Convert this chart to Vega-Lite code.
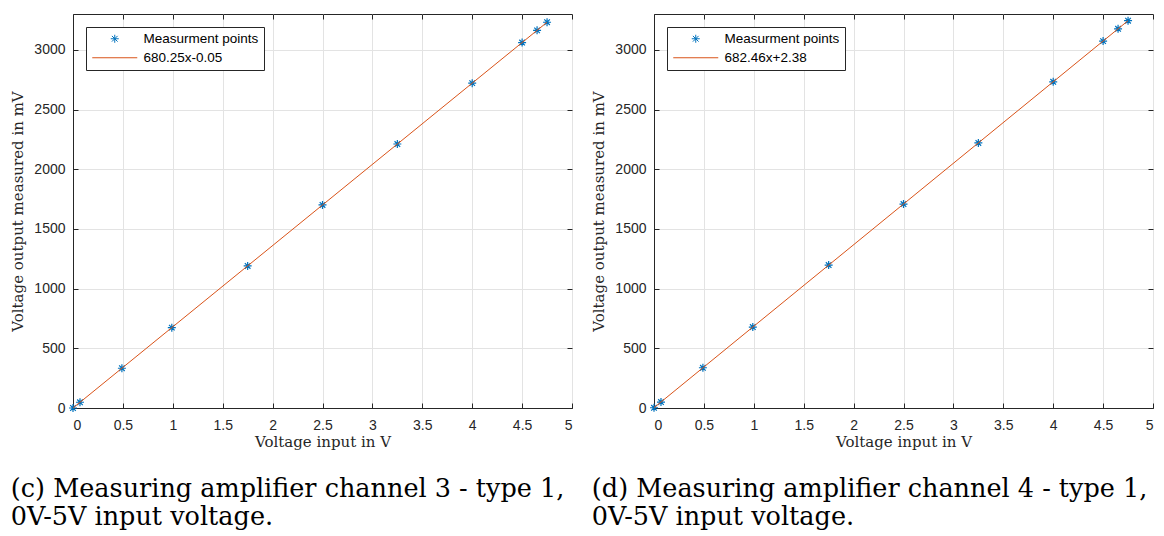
{
  "$schema": "https://vega.github.io/schema/vega-lite/v6.json",
  "padding": {"left": 10, "top": 13, "right": 3, "bottom": 0},
  "background": "white",
  "datasets": {
    "ch3": [
      {"x": 0, "y": 0, "series": "Measurment points"},
      {"x": 0.07, "y": 48, "series": "Measurment points"},
      {"x": 0.49, "y": 333, "series": "Measurment points"},
      {"x": 0.99, "y": 673, "series": "Measurment points"},
      {"x": 1.75, "y": 1190, "series": "Measurment points"},
      {"x": 2.5, "y": 1701, "series": "Measurment points"},
      {"x": 3.25, "y": 2211, "series": "Measurment points"},
      {"x": 4.0, "y": 2721, "series": "Measurment points"},
      {"x": 4.5, "y": 3061, "series": "Measurment points"},
      {"x": 4.65, "y": 3163, "series": "Measurment points"},
      {"x": 4.75, "y": 3231, "series": "Measurment points"},
      {"x": 0, "y": -0.05, "series": "680.25x-0.05"},
      {"x": 4.75, "y": 3231, "series": "680.25x-0.05"}
    ],
    "ch4": [
      {"x": 0, "y": 2, "series": "Measurment points"},
      {"x": 0.07, "y": 50, "series": "Measurment points"},
      {"x": 0.49, "y": 337, "series": "Measurment points"},
      {"x": 0.99, "y": 678, "series": "Measurment points"},
      {"x": 1.75, "y": 1197, "series": "Measurment points"},
      {"x": 2.5, "y": 1708, "series": "Measurment points"},
      {"x": 3.25, "y": 2220, "series": "Measurment points"},
      {"x": 4.0, "y": 2732, "series": "Measurment points"},
      {"x": 4.5, "y": 3073, "series": "Measurment points"},
      {"x": 4.65, "y": 3176, "series": "Measurment points"},
      {"x": 4.75, "y": 3244, "series": "Measurment points"},
      {"x": 0, "y": 2.38, "series": "682.46x+2.38"},
      {"x": 4.75, "y": 3244, "series": "682.46x+2.38"}
    ]
  },
  "hconcat": [
    {
      "width": 499,
      "height": 394,
      "data": {"name": "ch3"},
      "title": {"text": ["(c) Measuring amplifier channel 3 - type 1,", "0V-5V input voltage."], "orient": "bottom", "anchor": "start", "frame": "bounds"},
      "layer": [
        {
          "transform": [{"filter": "datum.series === 'Measurment points'"}],
          "mark": {"type": "point", "filled": false, "size": 64, "strokeWidth": 1.2, "opacity": 1, "shape": "M-1,0L1,0M0,-1L0,1M-0.7,-0.7L0.7,0.7M-0.7,0.7L0.7,-0.7"},
          "encoding": {
            "x": {"field": "x", "type": "quantitative", "scale": {"domain": [0, 5], "nice": false, "zero": false}, "axis": {"orient": "bottom", "title": "Voltage input in V", "values": [0, 0.5, 1, 1.5, 2, 2.5, 3, 3.5, 4, 4.5, 5], "format": "~g", "grid": true, "labelPadding": 15, "titlePadding": 2}},
            "y": {"field": "y", "type": "quantitative", "scale": {"domain": [0, 3300], "nice": false, "zero": false}, "axis": {"orient": "left", "title": "Voltage output measured in mV", "values": [0, 500, 1000, 1500, 2000, 2500, 3000], "format": "d", "grid": true, "labelPadding": 13, "titlePadding": 8}},
            "color": {"field": "series", "type": "nominal", "scale": {"domain": ["Measurment points", "680.25x-0.05"], "range": ["#0072BD", "#D95319"]}, "legend": {"title": null, "encode": {"symbols": {"update": {"shape": {"signal": "datum.value === 'Measurment points' ? 'M2.6,0L4.2,0M3.4,-0.8L3.4,0.8M2.83,-0.57L3.97,0.57M2.83,0.57L3.97,-0.57' : 'M-1.1,0L7.9,0'"}}}}}}
          }
        },
        {
          "transform": [{"filter": "datum.series !== 'Measurment points'"}],
          "mark": {"type": "line", "strokeWidth": 1},
          "encoding": {
            "x": {"field": "x", "type": "quantitative", "axis": {"orient": "top", "title": null, "labels": false, "grid": false, "domain": false, "values": [0, 0.5, 1, 1.5, 2, 2.5, 3, 3.5, 4, 4.5, 5]}},
            "y": {"field": "y", "type": "quantitative", "axis": {"orient": "right", "title": null, "labels": false, "grid": false, "domain": false, "values": [0, 500, 1000, 1500, 2000, 2500, 3000]}},
            "color": {"field": "series", "type": "nominal", "legend": {"title": null, "encode": {"symbols": {"update": {"shape": {"signal": "datum.value === 'Measurment points' ? 'M2.6,0L4.2,0M3.4,-0.8L3.4,0.8M2.83,-0.57L3.97,0.57M2.83,0.57L3.97,-0.57' : 'M-1.1,0L7.9,0'"}}}}}}
          }
        }
      ],
      "resolve": {"axis": {"x": "independent", "y": "independent"}}
    },
    {
      "width": 499,
      "height": 394,
      "data": {"name": "ch4"},
      "title": {"text": ["(d) Measuring amplifier channel 4 - type 1,", "0V-5V input voltage."], "orient": "bottom", "anchor": "start", "frame": "bounds"},
      "layer": [
        {
          "transform": [{"filter": "datum.series === 'Measurment points'"}],
          "mark": {"type": "point", "filled": false, "size": 64, "strokeWidth": 1.2, "opacity": 1, "shape": "M-1,0L1,0M0,-1L0,1M-0.7,-0.7L0.7,0.7M-0.7,0.7L0.7,-0.7"},
          "encoding": {
            "x": {"field": "x", "type": "quantitative", "scale": {"domain": [0, 5], "nice": false, "zero": false}, "axis": {"orient": "bottom", "title": "Voltage input in V", "values": [0, 0.5, 1, 1.5, 2, 2.5, 3, 3.5, 4, 4.5, 5], "format": "~g", "grid": true, "labelPadding": 15, "titlePadding": 2}},
            "y": {"field": "y", "type": "quantitative", "scale": {"domain": [0, 3300], "nice": false, "zero": false}, "axis": {"orient": "left", "title": "Voltage output measured in mV", "values": [0, 500, 1000, 1500, 2000, 2500, 3000], "format": "d", "grid": true, "labelPadding": 13, "titlePadding": 8}},
            "color": {"field": "series", "type": "nominal", "scale": {"domain": ["Measurment points", "682.46x+2.38"], "range": ["#0072BD", "#D95319"]}, "legend": {"title": null, "encode": {"symbols": {"update": {"shape": {"signal": "datum.value === 'Measurment points' ? 'M2.6,0L4.2,0M3.4,-0.8L3.4,0.8M2.83,-0.57L3.97,0.57M2.83,0.57L3.97,-0.57' : 'M-1.1,0L7.9,0'"}}}}}}
          }
        },
        {
          "transform": [{"filter": "datum.series !== 'Measurment points'"}],
          "mark": {"type": "line", "strokeWidth": 1},
          "encoding": {
            "x": {"field": "x", "type": "quantitative", "axis": {"orient": "top", "title": null, "labels": false, "grid": false, "domain": false, "values": [0, 0.5, 1, 1.5, 2, 2.5, 3, 3.5, 4, 4.5, 5]}},
            "y": {"field": "y", "type": "quantitative", "axis": {"orient": "right", "title": null, "labels": false, "grid": false, "domain": false, "values": [0, 500, 1000, 1500, 2000, 2500, 3000]}},
            "color": {"field": "series", "type": "nominal", "legend": {"title": null, "encode": {"symbols": {"update": {"shape": {"signal": "datum.value === 'Measurment points' ? 'M2.6,0L4.2,0M3.4,-0.8L3.4,0.8M2.83,-0.57L3.97,0.57M2.83,0.57L3.97,-0.57' : 'M-1.1,0L7.9,0'"}}}}}}
          }
        }
      ],
      "resolve": {"axis": {"x": "independent", "y": "independent"}}
    }
  ],
  "spacing": 18,
  "resolve": {"scale": {"color": "independent", "x": "independent", "y": "independent"}, "legend": {"color": "independent"}},
  "config": {
    "view": {"stroke": "#262626", "strokeWidth": 1},
    "axis": {
      "domainColor": "#262626",
      "tickColor": "#262626",
      "tickSize": -5,
      "labelColor": "#262626",
      "labelFont": "Liberation Sans",
      "labelFontSize": 14,
      "titleFont": "DejaVu Serif",
      "titleFontSize": 15,
      "titleFontWeight": "normal",
      "titleColor": "#262626",
      "gridColor": "#e3e3e3",
      "gridWidth": 1
    },
    "legend": {
      "orient": "top-left",
      "offset": 13,
      "strokeColor": "#262626",
      "fillColor": "white",
      "padding": 5,
      "symbolSize": 100,
      "symbolStrokeWidth": 1,
      "labelFont": "Liberation Sans",
      "labelFontSize": 13.5,
      "labelColor": "black",
      "labelOffset": 39,
      "rowPadding": 4,
      "cornerRadius": 0
    },
    "title": {
      "font": "DejaVu Serif",
      "fontSize": 25.5,
      "fontWeight": "normal",
      "color": "black",
      "lineHeight": 28,
      "offset": 28
    }
  }
}
